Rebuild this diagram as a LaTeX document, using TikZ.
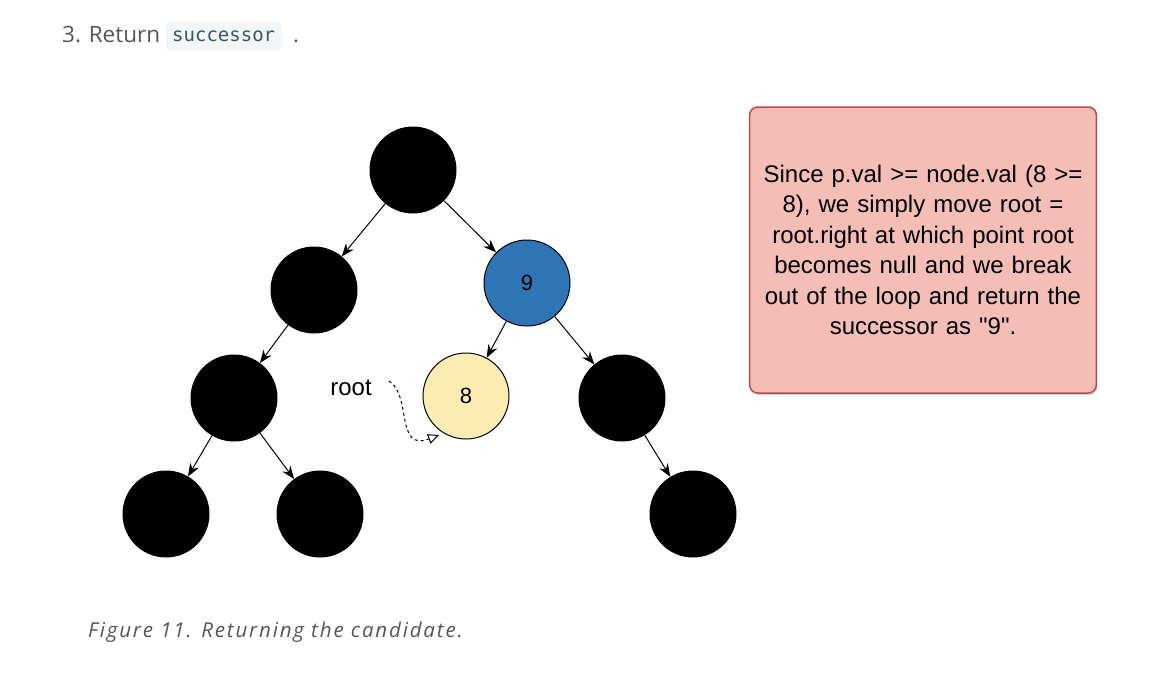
\documentclass[tikz,border=0pt]{standalone}
\usepackage{fontspec}
\setmainfont{Liberation Sans}
\newfontfamily\boxf{Liberation Sans}[Ligatures=TeXOff]
\newfontfamily\monof{DejaVu Sans Mono}
\newfontfamily\pagef{Open Sans}
\newfontfamily\capf{Open Sans}[LetterSpace=9]
\usetikzlibrary{arrows.meta,shadows}
\definecolor{bluen}{HTML}{2E75B6}
\definecolor{yelln}{HTML}{FCEBB2}
\definecolor{boxfill}{HTML}{F4BDB6}
\definecolor{boxdraw}{HTML}{C0464C}
\definecolor{graytxt}{HTML}{555555}
\definecolor{codebg}{HTML}{F3F6F8}
\definecolor{codetxt}{HTML}{3E5566}
\begin{document}
\begin{tikzpicture}[x=1pt,y=-1pt,
  tnode/.style={circle,draw=black,line width=1pt,minimum size=86pt,inner sep=0pt,fill=black,font=\fontsize{22}{22}\selectfont},
  edge/.style={-{Stealth[length=13pt,width=10pt]},line width=1pt},
  pagetxt/.style={text=graytxt,font=\pagef\fontsize{22.5}{26}\selectfont,inner sep=0pt}]
\useasboundingbox (0,0) rectangle (1168,678);
\node[pagetxt,anchor=base west] (hdr) at (62,42) {3. Return};
\node[fill=codebg,rounded corners=3pt,anchor=west,text=codetxt,font=\monof\fontsize{19}{20}\selectfont,minimum height=29pt,inner xsep=6pt] (code) at (166,36) {successor};
\node[pagetxt,anchor=base west] (dot) at (293,42) {.};
\node[tnode] (a) at (413,170) {};
\node[tnode] (b) at (314,290) {};
\node[tnode,fill=bluen] (c) at (527,283) {9};
\node[tnode] (d) at (234,398) {};
\node[tnode,fill=yelln] (e) at (466,396) {8};
\node[tnode] (f) at (622,398) {};
\node[tnode] (g) at (166,514) {};
\node[tnode] (h) at (320,514) {};
\node[tnode] (i) at (693,514) {};
\draw[edge] (a) -- (b);
\draw[edge] (a) -- (c);
\draw[edge] (b) -- (d);
\draw[edge] (c) -- (e);
\draw[edge] (c) -- (f);
\draw[edge] (d) -- (g);
\draw[edge] (d) -- (h);
\draw[edge] (f) -- (i);
\node[font=\fontsize{24}{24}\selectfont] (root) at (351,388) {root};
\coordinate (rs) at (389,381);
\draw[dashed,line width=1pt,-{Triangle[open,length=11pt,width=10pt]}] (rs) .. controls (412,395) and (395,452) .. (439,435);
\node[draw=boxdraw,line width=1.5pt,fill=boxfill,rounded corners=8pt,minimum width=346pt,minimum height=286pt,drop shadow={shadow xshift=1pt,shadow yshift=-2pt,opacity=0.35},align=center,font=\boxf\fontsize{24}{30.4}\selectfont,text width=340pt] (box) at (923,250) {Since p.val >= node.val (8 >=\\8), we simply move root =\\root.right at which point root\\becomes null and we break\\out of the loop and return the\\successor as "9".};
\node[text=graytxt,inner sep=0pt,anchor=base west,font=\capf\itshape\fontsize{20.5}{24}\selectfont] (cap) at (88,637) {Figure 11. Returning the candidate.};
\end{tikzpicture}
\end{document}
